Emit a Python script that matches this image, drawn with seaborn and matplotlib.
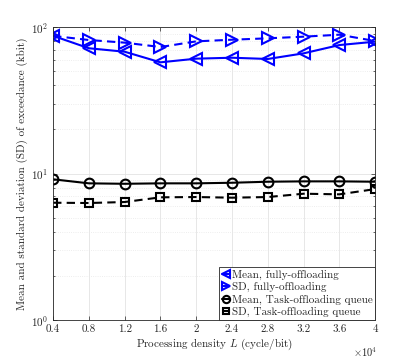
import matplotlib
matplotlib.use('Agg')
import matplotlib.pyplot as plt
import seaborn as sns
import numpy as np
from matplotlib.ticker import LogLocator, NullFormatter

# Data (x in units of 1e4 cycle/bit)
density = [0.4, 0.8, 1.2, 1.6, 2.0, 2.4, 2.8, 3.2, 3.6, 4.0]
x_tick_labels = ['0.4', '0.8', '1.2', '1.6', '2', '2.4', '2.8', '3.2', '3.6', '4']

mean_full = [87.0, 71.6, 67.8, 57.4, 60.8, 61.7, 60.5, 66.1, 75.3, 79.4]
sd_full = [87.0, 81.5, 78.2, 73.0, 79.8, 81.9, 83.7, 85.9, 88.6, 80.2]
mean_queue = [9.13, 8.57, 8.51, 8.57, 8.57, 8.65, 8.79, 8.84, 8.84, 8.79]
sd_queue = [6.32, 6.29, 6.39, 6.88, 6.91, 6.84, 6.91, 7.28, 7.21, 7.83]

sns.set_style('ticks')
plt.rcParams['font.family'] = ['cmr10', 'DejaVu Serif']
plt.rcParams['mathtext.fontset'] = 'cm'
plt.rcParams['axes.formatter.use_mathtext'] = True

fig = plt.figure(figsize=(4.15, 3.6), dpi=100)
ax = fig.add_axes([0.128, 0.111, 0.776, 0.814])

blue = '#0000ff'
common = dict(linewidth=1.5, markeredgewidth=1.5, markerfacecolor='none')

sns.lineplot(x=density, y=mean_full, ax=ax, color=blue, marker='<', markersize=8.5,
             markeredgecolor=blue, label='Mean, fully-offloading', **common)
sns.lineplot(x=density, y=sd_full, ax=ax, color=blue, marker='>', markersize=8.5,
             markeredgecolor=blue, linestyle=(0, (4, 2.5)), label='SD, fully-offloading', **common)
sns.lineplot(x=density, y=mean_queue, ax=ax, color='black', marker='o', markersize=7,
             markeredgecolor='black', label='Mean, Task-offloading queue', **common)
sns.lineplot(x=density, y=sd_queue, ax=ax, color='black', marker='s', markersize=5.5,
             markeredgecolor='black', linestyle=(0, (4, 2.5)), label='SD, Task-offloading queue', **common)

ax.set_yscale('log')
ax.set_ylim(1, 100)
ax.set_xlim(0.4, 4.0)
ax.set_xticks(density)
ax.set_xticklabels(x_tick_labels)
ax.yaxis.set_minor_locator(LogLocator(base=10, subs=np.arange(2, 10)))
ax.yaxis.set_minor_formatter(NullFormatter())

ax.grid(True, which='major', color='#e3e3e3', linewidth=0.6)
ax.grid(True, which='minor', axis='y', color='#e8e8e8', linewidth=0.6, linestyle=':')
ax.set_axisbelow(True)

for s in ax.spines.values():
    s.set_color('#262626')
    s.set_linewidth(0.6)
ax.tick_params(which='both', direction='in', top=True, right=True, labelsize=8,
               colors='#262626', width=0.5)
ax.tick_params(which='major', length=3)
ax.tick_params(which='minor', length=1.5)

ax.set_xlabel('Processing density $L$ (cycle/bit)', fontsize=8, color='#262626', labelpad=2)
ax.set_ylabel('Mean and standard deviation (SD) of exceedance (kbit)', fontsize=8,
              color='#262626', labelpad=2)
ax.text(1.008, -0.085, r'$\times10^4$', transform=ax.transAxes, ha='right', va='top',
        fontsize=7.5, color='#262626')

leg = ax.legend(loc='lower right', fontsize=8, frameon=True, fancybox=False,
                edgecolor='#262626', framealpha=1, handlelength=0.7, handletextpad=0.2,
                borderpad=0.25, labelspacing=0.2, borderaxespad=0, markerscale=0.75)
leg.get_frame().set_linewidth(0.6)

fig.savefig('out.png', dpi=100)
